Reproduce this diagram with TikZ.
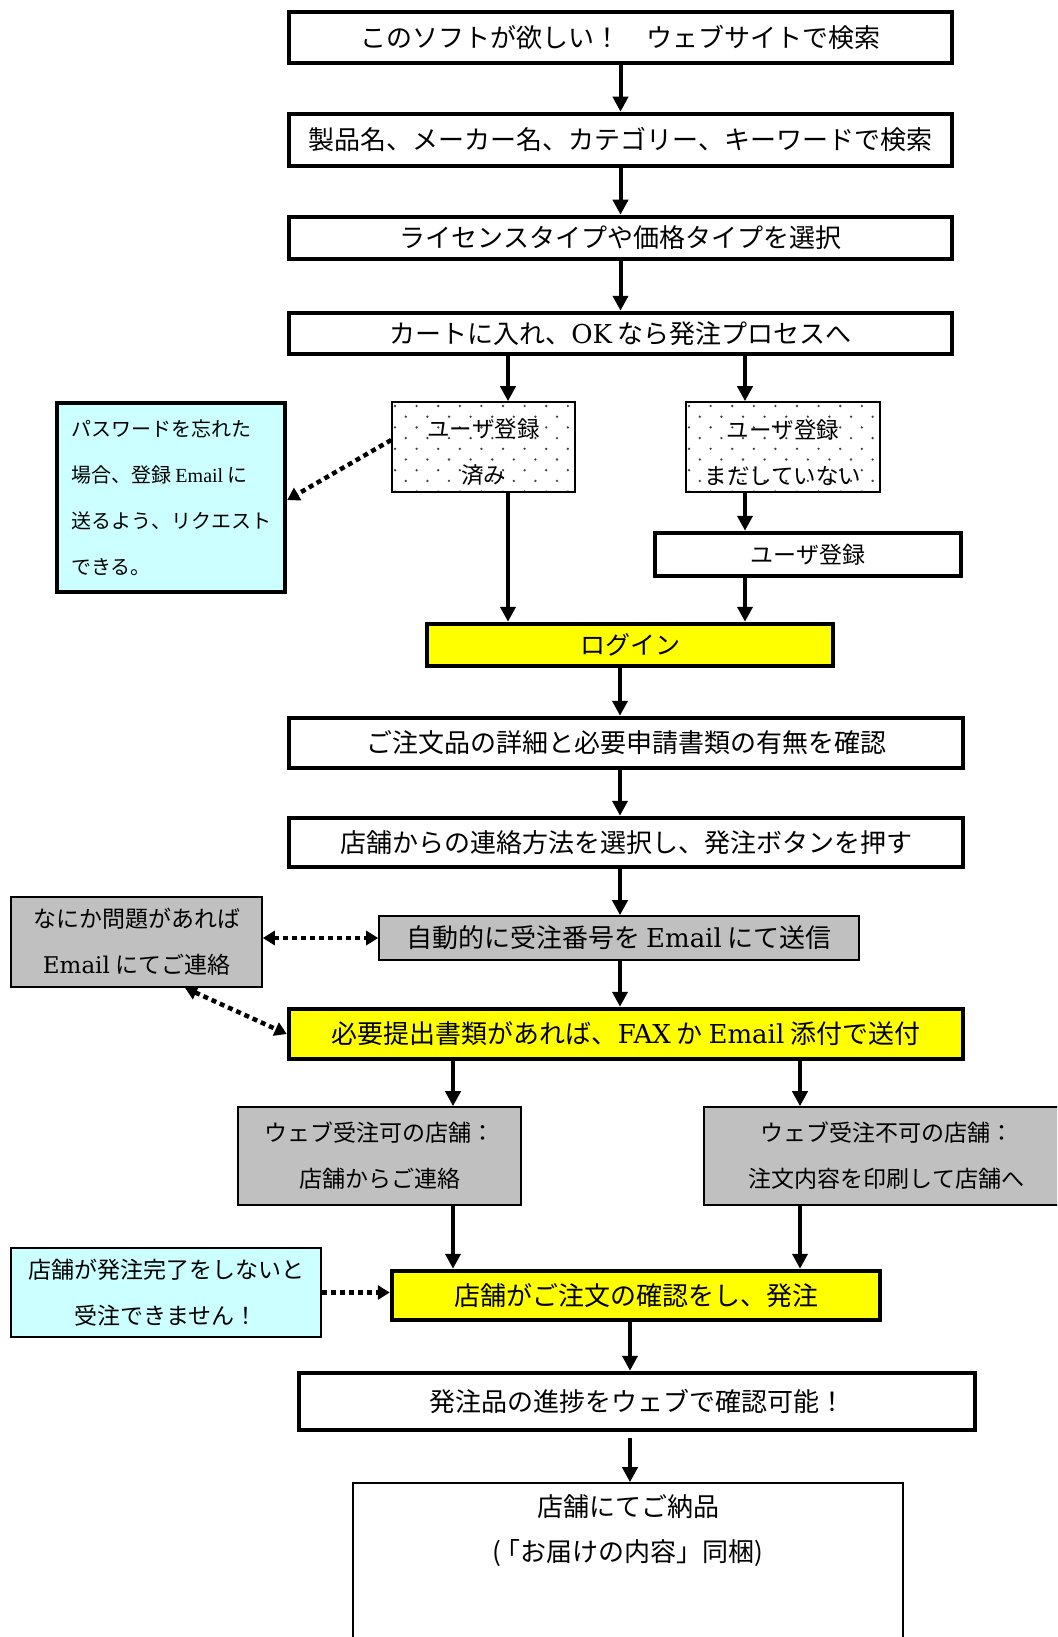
\documentclass[tikz,border=0pt]{standalone}
\usepackage{fontspec}
\newfontfamily\jp{Noto Sans CJK JP}
\newfontfamily\latfont{DejaVu Serif}
\newfontfamily\timesfont{Liberation Serif}
\usetikzlibrary{arrows.meta}
\definecolor{yel}{HTML}{FFFF00}
\definecolor{cya}{HTML}{CCFFFF}
\definecolor{gry}{HTML}{C0C0C0}
\newcommand\latn[1]{{\latfont #1}}
\newcommand\tms[1]{{\timesfont #1}}
\begin{document}
\begin{tikzpicture}[x=1pt,y=-1pt,
  box/.style={draw, inner sep=0pt, align=center, font=\jp\fontsize{26}{46}\selectfont},
  thickbox/.style={box, line width=4.5pt},
  thinbox/.style={box, line width=1.6pt},
  small/.style={font=\jp\fontsize{23}{46}\selectfont},
  dotfill/.style={path picture={
    \foreach \j in {0,...,9}{\foreach \i in {0,...,9}{
      \pgfmathsetmacro\xx{\i*21.6+mod(\j,2)*10.8+3}
      \pgfmathsetmacro\yy{\j*10.7+4}
      \fill[black!75] ([shift={(\xx,\yy)}]path picture bounding box.north west) circle (1.3pt);
    }}}},
  arr/.style={line width=4pt, -{Triangle[length=15pt,width=15pt]}},
  dotarr/.style={line width=4.5pt, dash pattern=on 5pt off 4pt, -{Triangle[length=12pt,width=14pt]}},
  dotarrb/.style={line width=4.5pt, dash pattern=on 5pt off 4pt, {Triangle[length=12pt,width=14pt]}-{Triangle[length=12pt,width=14pt]}}
]
\useasboundingbox (0,0) rectangle (1057,1637);
\clip (0,0) rectangle (1057,1637);

\coordinate (xL) at (508,0);
\coordinate (xR) at (745,0);
\coordinate (xM) at (620,0);
\coordinate (xA) at (453,0);
\coordinate (xB) at (800,0);
\coordinate (xN) at (630,0);

\node[thickbox, minimum width=663pt, minimum height=51pt] (B1) at (620.5,37.5) {このソフトが欲しい！　ウェブサイトで検索};
\node[thickbox, minimum width=663pt, minimum height=52pt] (B2) at (620.5,140) {製品名、メーカー名、カテゴリー、キーワードで検索};
\node[thickbox, minimum width=663pt, minimum height=42pt] (B3) at (620.5,238) {ライセンスタイプや価格タイプを選択};
\node[thickbox, minimum width=663pt, minimum height=41pt] (B4) at (620.5,333.5) {カートに入れ、\latn{OK} なら発注プロセスへ};

\node[thinbox, small, font=\jp\fontsize{22.5}{46}\selectfont, dotfill, minimum width=183pt, minimum height=90pt, text height=76pt] (D1) at (483.5,447) {ユーザ登録\\済み};
\node[thinbox, small, font=\jp\fontsize{22.5}{46}\selectfont, dotfill, minimum width=194pt, minimum height=90pt, text height=76pt] (D2) at (783,447) {ユーザ登録\\まだしていない};

\node[thickbox, fill=cya, align=left, font=\jp\fontsize{20}{46}\selectfont, minimum width=228pt, minimum height=189pt] (C1) at (171,497.5) {パスワードを忘れた\\場合、登録 \tms{Email} に\\送るよう、リクエスト\\できる。};

\node[thickbox, small, minimum width=306pt, minimum height=43pt] (R) at (808,554.5) {ユーザ登録};
\node[thickbox, fill=yel, font=\jp\fontsize{25}{46}\selectfont, minimum width=406pt, minimum height=42pt] (L) at (630,645) {ログイン};

\node[thickbox, minimum width=674pt, minimum height=50pt] (B8) at (626,743) {ご注文品の詳細と必要申請書類の有無を確認};
\node[thickbox, minimum width=674pt, minimum height=49pt] (B9) at (626,842.5) {店舗からの連絡方法を選択し、発注ボタンを押す};

\node[thinbox, fill=gry, minimum width=480pt, minimum height=44pt] (A) at (619,938) {自動的に受注番号を \latn{Email} にて送信};
\node[thinbox, fill=gry, small, minimum width=251pt, minimum height=90pt] (G1) at (136.5,942) {なにか問題があれば\\\latn{Email} にてご連絡};

\node[thickbox, fill=yel, minimum width=674pt, minimum height=50pt] (Y2) at (626,1034) {必要提出書類があれば、\latn{FAX} か \latn{Email} 添付で送付};

\node[thinbox, fill=gry, small, minimum width=283pt, minimum height=98pt] (G2) at (379.5,1156) {ウェブ受注可の店舗：\\店舗からご連絡};
\node[thinbox, fill=gry, small, minimum width=365pt, minimum height=98pt] (G3) at (886.5,1156) {ウェブ受注不可の店舗：\\注文内容を印刷して店舗へ};

\node[thickbox, fill=yel, minimum width=488pt, minimum height=49pt] (Y3) at (636,1295.5) {店舗がご注文の確認をし、発注};
\node[thinbox, fill=cya, small, minimum width=310pt, minimum height=89pt] (C2) at (166,1292.5) {店舗が発注完了をしないと\\受注できません！};

\node[thickbox, minimum width=676pt, minimum height=57pt] (B10) at (637,1401.5) {発注品の進捗をウェブで確認可能！};
\node[thinbox, minimum width=550pt, minimum height=176pt] (F) at (628,1571) {};
\node[font=\jp\fontsize{26}{45}\selectfont, align=center, anchor=north, inner sep=0pt] (Ft) at (628,1494) {店舗にてご納品\\(\kern-0.28em「お届けの内容」同梱)};

% solid connectors
\draw[arr] (B1.south) -- (B2.north);
\draw[arr] (B2.south) -- (B3.north);
\draw[arr] (B3.south) -- (B4.north);
\draw[arr] (B4.south -| xL) -- (D1.north -| xL);
\draw[arr] (B4.south -| xR) -- (D2.north -| xR);
\draw[arr] (D2.south -| xR) -- (R.north -| xR);
\draw[arr] (D1.south -| xL) -- (L.north -| xL);
\draw[arr] (R.south -| xR) -- (L.north -| xR);
\draw[arr] (L.south -| xM) -- (B8.north -| xM);
\draw[arr] (B8.south -| xM) -- (B9.north -| xM);
\draw[arr] (B9.south -| xM) -- (A.north -| xM);
\draw[arr] (A.south -| xM) -- (Y2.north -| xM);
\draw[arr] (Y2.south -| xA) -- (G2.north -| xA);
\draw[arr] (Y2.south -| xB) -- (G3.north -| xB);
\draw[arr] (G2.south -| xA) -- (Y3.north -| xA);
\draw[arr] (G3.south -| xB) -- (Y3.north -| xB);
\draw[arr] (Y3.south -| xN) -- (B10.north -| xN);
\draw[arr, shorten <=6pt] (B10.south -| xN) -- (F.north -| xN);

% dotted connectors
\coordinate (p1) at (0,440);
\coordinate (p2) at (0,500);
\coordinate (q1) at (185,0);
\draw[dotarr] (D1.west |- p1) -- (C1.east |- p2);
\draw[dotarrb] (G1.east |- A.west) -- (A.west);
\draw[dotarrb] (G1.south -| q1) -- (Y2.west);
\draw[dotarr] (C2.east) -- (C2.east -| Y3.west);
\end{tikzpicture}
\end{document}
